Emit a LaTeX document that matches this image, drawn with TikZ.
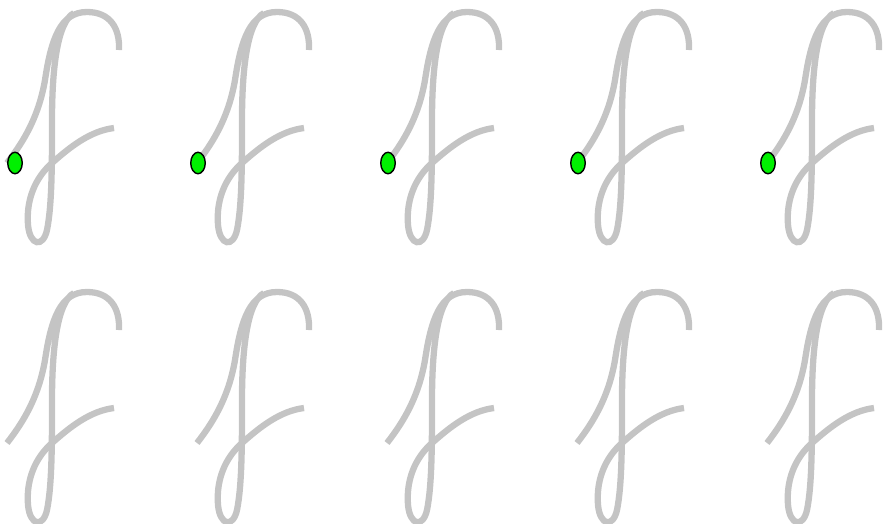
\documentclass[tikz,border=0pt]{standalone}
\usetikzlibrary{shapes.geometric}
\definecolor{inkgray}{RGB}{196,196,196}
\definecolor{pengreen}{RGB}{0,240,0}
\tikzset{
    glyph/.style = {draw=inkgray, line width=6.3pt},
    pen/.style = {draw, ellipse, line width=1.4pt, fill=pengreen,
        minimum width=14.5pt, minimum height=21.5pt, inner sep=0pt}
}
% one cursive f: up stroke with top hook, then down stroke with lower loop
\def\fglyph{%
    (7,163) .. controls (25,140) and (39,115) .. (45,80)
    .. controls (51,40) and (60,12) .. (87,12)
    .. controls (110,12) and (120,28) .. (119,50)
    (74,13) .. controls (57,22) and (52,70) .. (52,120)
    .. controls (52,165) and (52,205) .. (47,230)
    .. controls (43,248) and (30,246) .. (28,225)
    .. controls (26,200) and (35,178) .. (52,163)
    .. controls (70,147) and (90,131) .. (114,128)
}

\begin{document}
\begin{tikzpicture}[x=1pt, y=-1pt]
    \useasboundingbox (0,0) rectangle (884,523);
    % top row, pen at the start of the stroke
    \draw [glyph] \fglyph;
    \draw [glyph, shift={(190,0)}] \fglyph;
    \draw [glyph, shift={(380,0)}] \fglyph;
    \draw [glyph, shift={(570,0)}] \fglyph;
    \draw [glyph, shift={(760,0)}] \fglyph;
    \node [pen] (pen1) at (15,163) {};
    \node [pen] (pen2) at (198,163) {};
    \node [pen] (pen3) at (388,163) {};
    \node [pen] (pen4) at (578,163) {};
    \node [pen] (pen5) at (768,163) {};
    % bottom row
    \draw [glyph, shift={(0,280)}] \fglyph;
    \draw [glyph, shift={(190,280)}] \fglyph;
    \draw [glyph, shift={(380,280)}] \fglyph;
    \draw [glyph, shift={(570,280)}] \fglyph;
    \draw [glyph, shift={(760,280)}] \fglyph;
\end{tikzpicture}
\end{document}
